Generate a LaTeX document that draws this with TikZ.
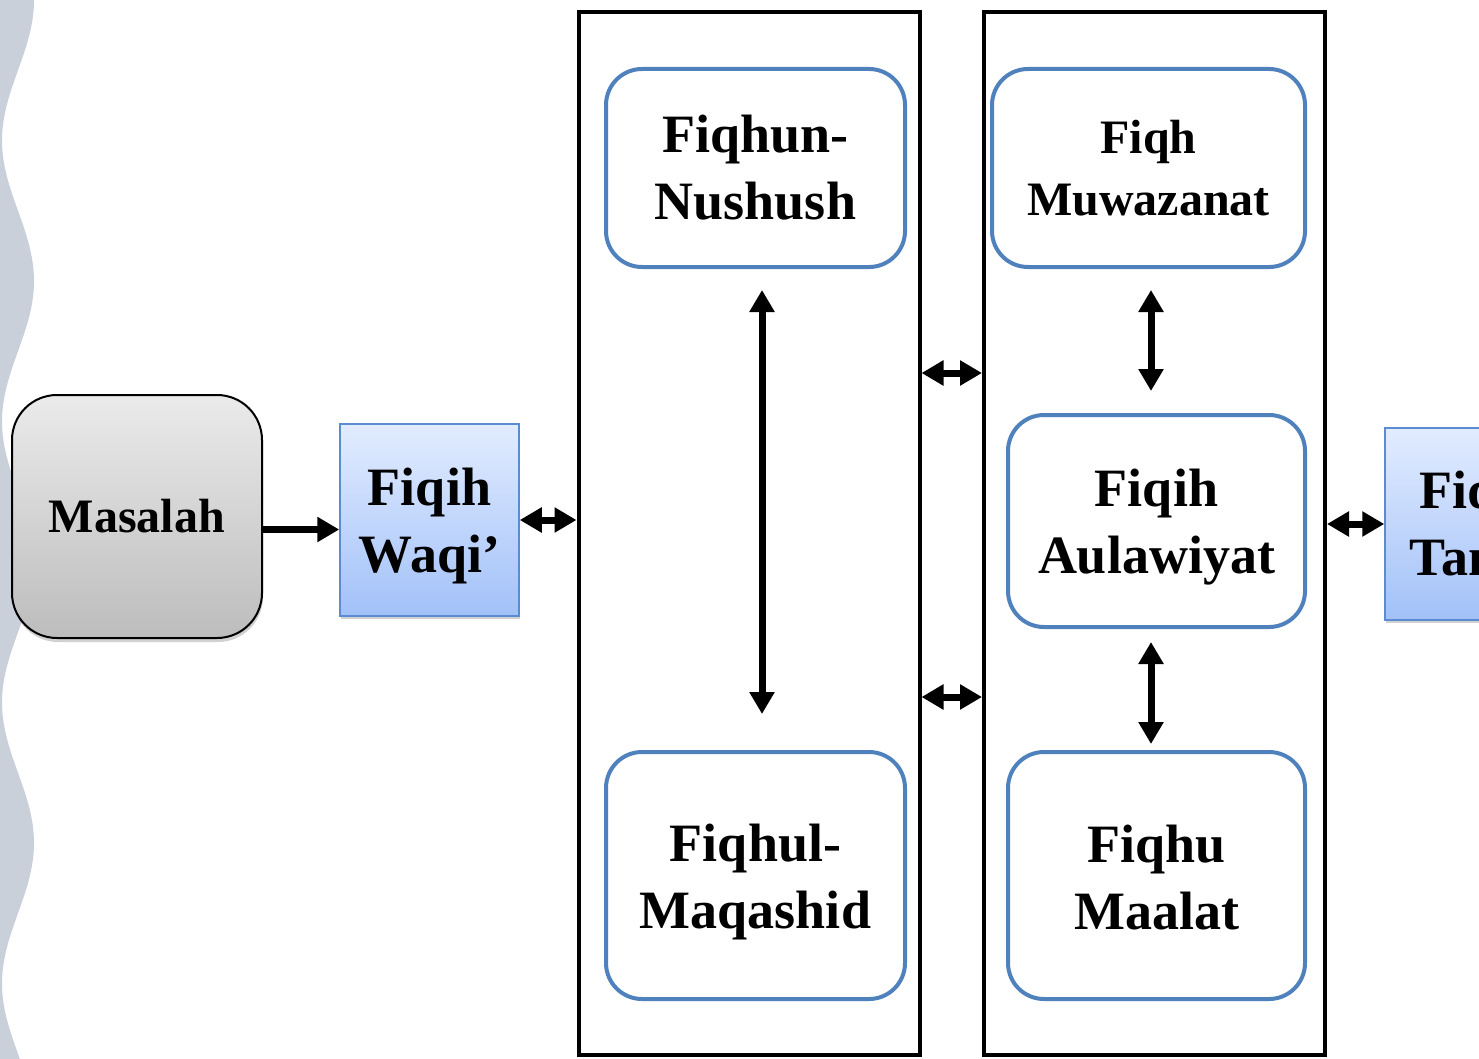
\documentclass[tikz,border=0pt]{standalone}
\usepackage{fontspec}
\setmainfont{Liberation Serif}
\usetikzlibrary{arrows.meta,shadows}
\definecolor{wavecol}{HTML}{C9D0D9}
\definecolor{bordblue}{HTML}{4F81BD}
\definecolor{waqitop}{HTML}{E2ECFF}
\definecolor{waqibot}{HTML}{A2C1F8}
\definecolor{waqiedge}{HTML}{5B8BD0}
\newcommand{\bigfnt}{\bfseries\fontsize{54}{67}\selectfont}
\newcommand{\midfnt}{\bfseries\fontsize{48}{62}\selectfont}
\tikzset{
  blueround/.style={draw=bordblue, line width=4pt, rounded corners=36pt, fill=white,
    align=center, font=\bigfnt, inner sep=0pt},
  txtlbl/.style={align=center, font=\bigfnt, inner sep=0pt},
  colbox/.style={draw=black, line width=4pt, inner sep=0pt, minimum width=341pt, minimum height=1043pt},
  bluesq/.style={draw=waqiedge, line width=1.5pt, top color=waqitop, bottom color=waqibot,
    align=center, font=\bigfnt, inner sep=0pt, minimum width=179pt, minimum height=192pt,
    drop shadow={shadow xshift=1pt, shadow yshift=-3pt, opacity=0.3, fill=black!60}},
  grayround/.style={draw=black, line width=2pt, rounded corners=45pt, top color=black!8,
    bottom color=black!26, font=\midfnt, inner sep=0pt, minimum width=250pt, minimum height=243pt,
    drop shadow={shadow xshift=1pt, shadow yshift=-4pt, opacity=0.3, fill=black!60}},
  tipA/.tip={Triangle[length=22pt,width=24pt]},
  dblarr/.style={line width=7pt, tipA-tipA},
  onearr/.style={line width=7pt, -tipA}
}
\begin{document}
\begin{tikzpicture}[x=1pt,y=-1pt]
\useasboundingbox (0,0) rectangle (1479,1059);
\clip (0,0) rectangle (1479,1059);
% wavy band
\fill[wavecol] (-20,-10) -- (34,-10)
  -- plot[domain=0:1069, samples=200, variable=\t] ({18+16*cos(1.28114*\t)},\t)
  -- (-20,1069) -- cycle;
% column frames
\node[colbox] (c1) at (749,533.5) {};
\node[colbox] (c2) at (1154.5,533.5) {};
% nodes
\node[grayround] (masalah) at (137,516.5) {Masalah};
\node[bluesq, label={[txtlbl, yshift=-6pt]center:{Fiqih\\Waqi’}}] (waqi) at (429.5,520) {};
\node[bluesq, minimum width=192pt] (tanzil) at (1481,524) {Fiqih\\Tanzil};
\node[blueround, minimum width=299pt, minimum height=198pt] (nushush) at (755.5,168) {Fiqhun-\\Nushush};
\node[blueround, minimum width=299pt, minimum height=247pt, label={[txtlbl, yshift=-7pt]center:{Fiqhul-\\Maqashid}}] (maqashid) at (755.5,875.5) {};
\node[blueround, font=\midfnt, minimum width=313pt, minimum height=198pt] (muwazanat) at (1148.5,168) {Fiqh\\Muwazanat};
\node[blueround, minimum width=297pt, minimum height=212pt, label={[txtlbl, yshift=-6pt]center:{Fiqih\\Aulawiyat}}] (aulawiyat) at (1156.5,521) {};
\node[blueround, minimum width=297pt, minimum height=247pt, label={[txtlbl, yshift=-2pt]center:{Fiqhu\\Maalat}}] (maalat) at (1156.5,875.5) {};
% connectors
\draw[onearr] ([yshift=-13pt]masalah.east) -- ([yshift=-13pt]masalah.east -| waqi.west);
\draw[dblarr] (waqi.east) -- (waqi.east -| c1.west);
\draw[dblarr] ([yshift=160.5pt]c1.east) -- ([yshift=160.5pt]c2.west);
\draw[dblarr] ([yshift=-163.5pt]c1.east) -- ([yshift=-163.5pt]c2.west);
\draw[dblarr] (tanzil.west -| c2.east) -- (tanzil.west);
\draw[dblarr, shorten <=21pt, shorten >=36pt] ([xshift=6.5pt]nushush.south) -- ([xshift=6.5pt]nushush.south |- maqashid.north);
\draw[dblarr, shorten <=21pt, shorten >=22pt] ([xshift=-5.5pt]aulawiyat.north |- muwazanat.south) -- ([xshift=-5.5pt]aulawiyat.north);
\draw[dblarr, shorten <=13pt, shorten >=6pt] ([xshift=-5.5pt]aulawiyat.south) -- ([xshift=-5.5pt]maalat.north);
\end{tikzpicture}
\end{document}
